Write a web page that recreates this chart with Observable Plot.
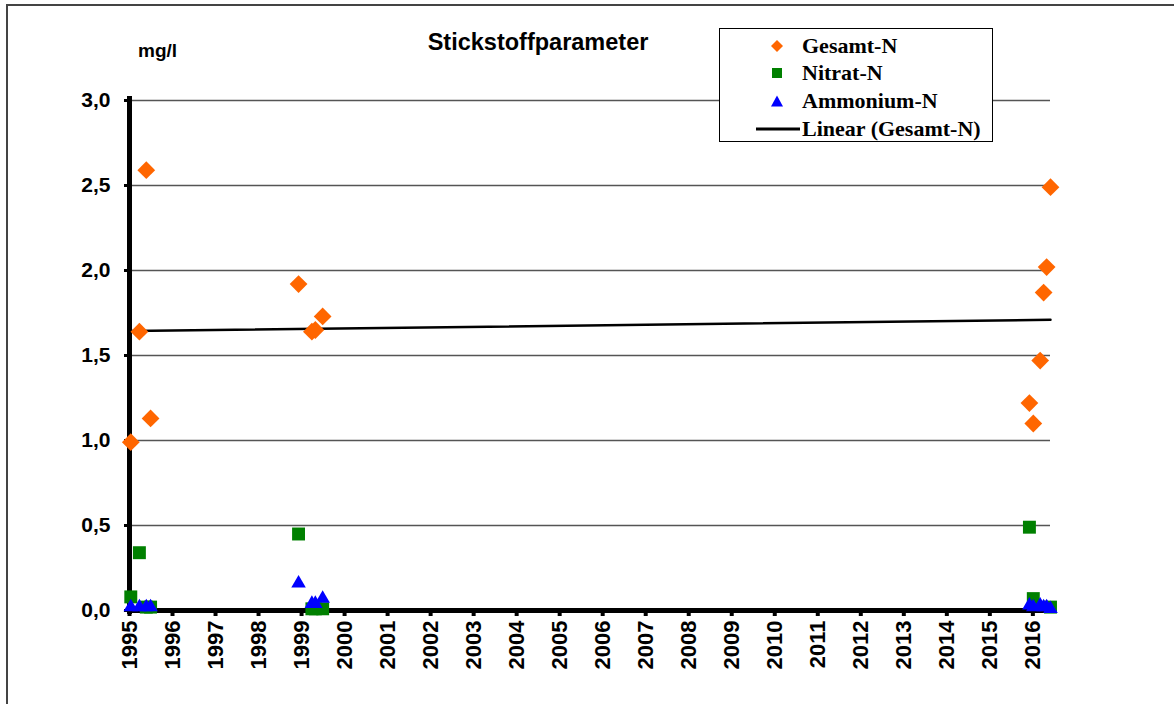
<!DOCTYPE html>
<html>
<head>
<meta charset="utf-8">
<script src="https://cdn.jsdelivr.net/npm/d3@7"></script>
<script src="https://cdn.jsdelivr.net/npm/@observablehq/plot@0.6"></script>
<style>
  html, body { margin: 0; padding: 0; background: #fff; }
  #wrap { position: relative; width: 1174px; height: 704px; overflow: hidden; }
  #border { position: absolute; left: 6px; top: 4px; width: 1180px; height: 720px; border: 2px solid #444; box-sizing: border-box; }
  #title { position: absolute; left: 538px; top: 29px; transform: translateX(-50%); font: bold 23.5px "Liberation Sans", Arial, sans-serif; white-space: nowrap; }
  #unit { position: absolute; left: 138px; top: 40px; font: bold 19px "Liberation Sans", Arial, sans-serif; }
  #legend { position: absolute; left: 719px; top: 28px; width: 274px; height: 114px; box-sizing: border-box; border: 1.5px solid #000; background: #fff; font: bold 22px "Liberation Serif", "Times New Roman", serif; }
  .row { position: absolute; left: 0; height: 26px; display: flex; align-items: center; }
  .row svg { position: absolute; }
  .row span { position: absolute; left: 82px; white-space: nowrap; }
  #plot { position: absolute; left: 0; top: 0; }
</style>
</head>
<body>
<div id="wrap">
  <div id="plot"></div>
  <div id="border"></div>
  <div id="title">Stickstoffparameter</div>
  <div id="unit">mg/l</div>
  <div id="legend"></div>
</div>
<script>
// Data (decimal years)
const gesamtX = [1995.03, 1995.23, 1995.39, 1995.49, 1998.93, 1999.24, 1999.32, 1999.49, 2015.92, 2016.01, 2016.17, 2016.25, 2016.32, 2016.41];
const gesamtY = [0.99, 1.64, 2.59, 1.13, 1.92, 1.64, 1.65, 1.73, 1.22, 1.10, 1.47, 1.87, 2.02, 2.49];

const nitratX = [1995.03, 1995.23, 1995.39, 1995.49, 1998.93, 1999.24, 1999.32, 1999.49, 2015.92, 2016.01, 2016.41];
const nitratY = [0.08, 0.34, 0.02, 0.02, 0.45, 0.01, 0.01, 0.01, 0.49, 0.07, 0.02];

const ammoniumX = [1995.03, 1995.23, 1995.39, 1995.49, 1998.93, 1999.24, 1999.32, 1999.49, 2015.92, 2016.01, 2016.17, 2016.25, 2016.32, 2016.41];
const ammoniumY = [0.02, 0.02, 0.02, 0.02, 0.16, 0.04, 0.04, 0.07, 0.03, 0.02, 0.03, 0.02, 0.02, 0.01];

const years = d3.range(1995, 2017);
const yTicks = [0, 0.5, 1.0, 1.5, 2.0, 2.5, 3.0];
const xDomain = [1995, 2016.41];
const yDomain = [0, 3];

const seriesNames = ["Gesamt-N", "Nitrat-N", "Ammonium-N", "Linear (Gesamt-N)"];
const colors = { "Gesamt-N": "#FF6600", "Nitrat-N": "#008000", "Ammonium-N": "#0000FF" };

const toRows = (xs, ys) => xs.map((x, i) => ({ x, y: ys[i] }));
const gesamt = toRows(gesamtX, gesamtY);
const nitrat = toRows(nitratX, nitratY);
const ammonium = toRows(ammoniumX, ammoniumY);

const fmt = d => d.toFixed(1).replace(".", ",");

const chart = Plot.plot({
  width: 1174,
  height: 704,
  marginLeft: 129,
  marginRight: 124,
  marginTop: 100,
  marginBottom: 94,
  style: { fontFamily: "'Liberation Sans', Arial, sans-serif", color: "#000", background: "transparent", overflow: "visible" },
  x: { domain: xDomain },
  y: { domain: yDomain },
  marks: [
    Plot.ruleY(yTicks.filter(d => d > 0), { stroke: "#555", strokeWidth: 1.5 }),
    Plot.linearRegressionY(gesamt, { x: "x", y: "y", ci: 0, stroke: "#000", strokeWidth: 2.5 }),
    Plot.axisY({ ticks: yTicks, tickFormat: fmt, tickSize: 5, tickPadding: 14, strokeWidth: 3, fontSize: 21, fontWeight: "bold", label: null }),
    Plot.axisX({ ticks: years, tickFormat: d => String(d), tickRotate: -90, tickSize: 6, tickPadding: 4, strokeWidth: 4, fontSize: 22, fontWeight: "bold", label: null }),
    Plot.ruleX([xDomain[0]], { stroke: "#000", strokeWidth: 5, insetTop: -4, insetBottom: -4 }),
    Plot.ruleY([0], { stroke: "#000", strokeWidth: 5 }),
    Plot.dot(gesamt, { x: "x", y: "y", symbol: "diamond2", r: 8, fill: colors["Gesamt-N"], stroke: "none" }),
    Plot.dot(nitrat, { x: "x", y: "y", symbol: "square", r: 7.3, fill: colors["Nitrat-N"], stroke: "none" }),
    Plot.dot(ammonium, { x: "x", y: "y", symbol: "triangle", r: 5.4, fill: colors["Ammonium-N"], stroke: "none" })
  ]
});
document.getElementById("plot").appendChild(chart);

// Legend
const legend = document.getElementById("legend");
const rowTops = [4, 31, 59, 87];
const sym = {
  "Gesamt-N": `<svg width="14" height="14" style="left:50px"><path d="M7 1 L13 7 L7 13 L1 7 Z" fill="#FF6600"/></svg>`,
  "Nitrat-N": `<svg width="14" height="14" style="left:50px"><rect x="2" y="2" width="10" height="10" fill="#008000"/></svg>`,
  "Ammonium-N": `<svg width="14" height="14" style="left:50px"><path d="M7 1.5 L13 12.5 L1 12.5 Z" fill="#0000FF"/></svg>`,
  "Linear (Gesamt-N)": `<svg width="44" height="6" style="left:36px"><line x1="0" y1="3" x2="44" y2="3" stroke="#000" stroke-width="3"/></svg>`
};
seriesNames.forEach((name, i) => {
  const row = document.createElement("div");
  row.className = "row";
  row.style.top = rowTops[i] + "px";
  row.style.width = "270px";
  row.innerHTML = sym[name] + `<span>${name}</span>`;
  legend.appendChild(row);
});
</script>
</body>
</html>
